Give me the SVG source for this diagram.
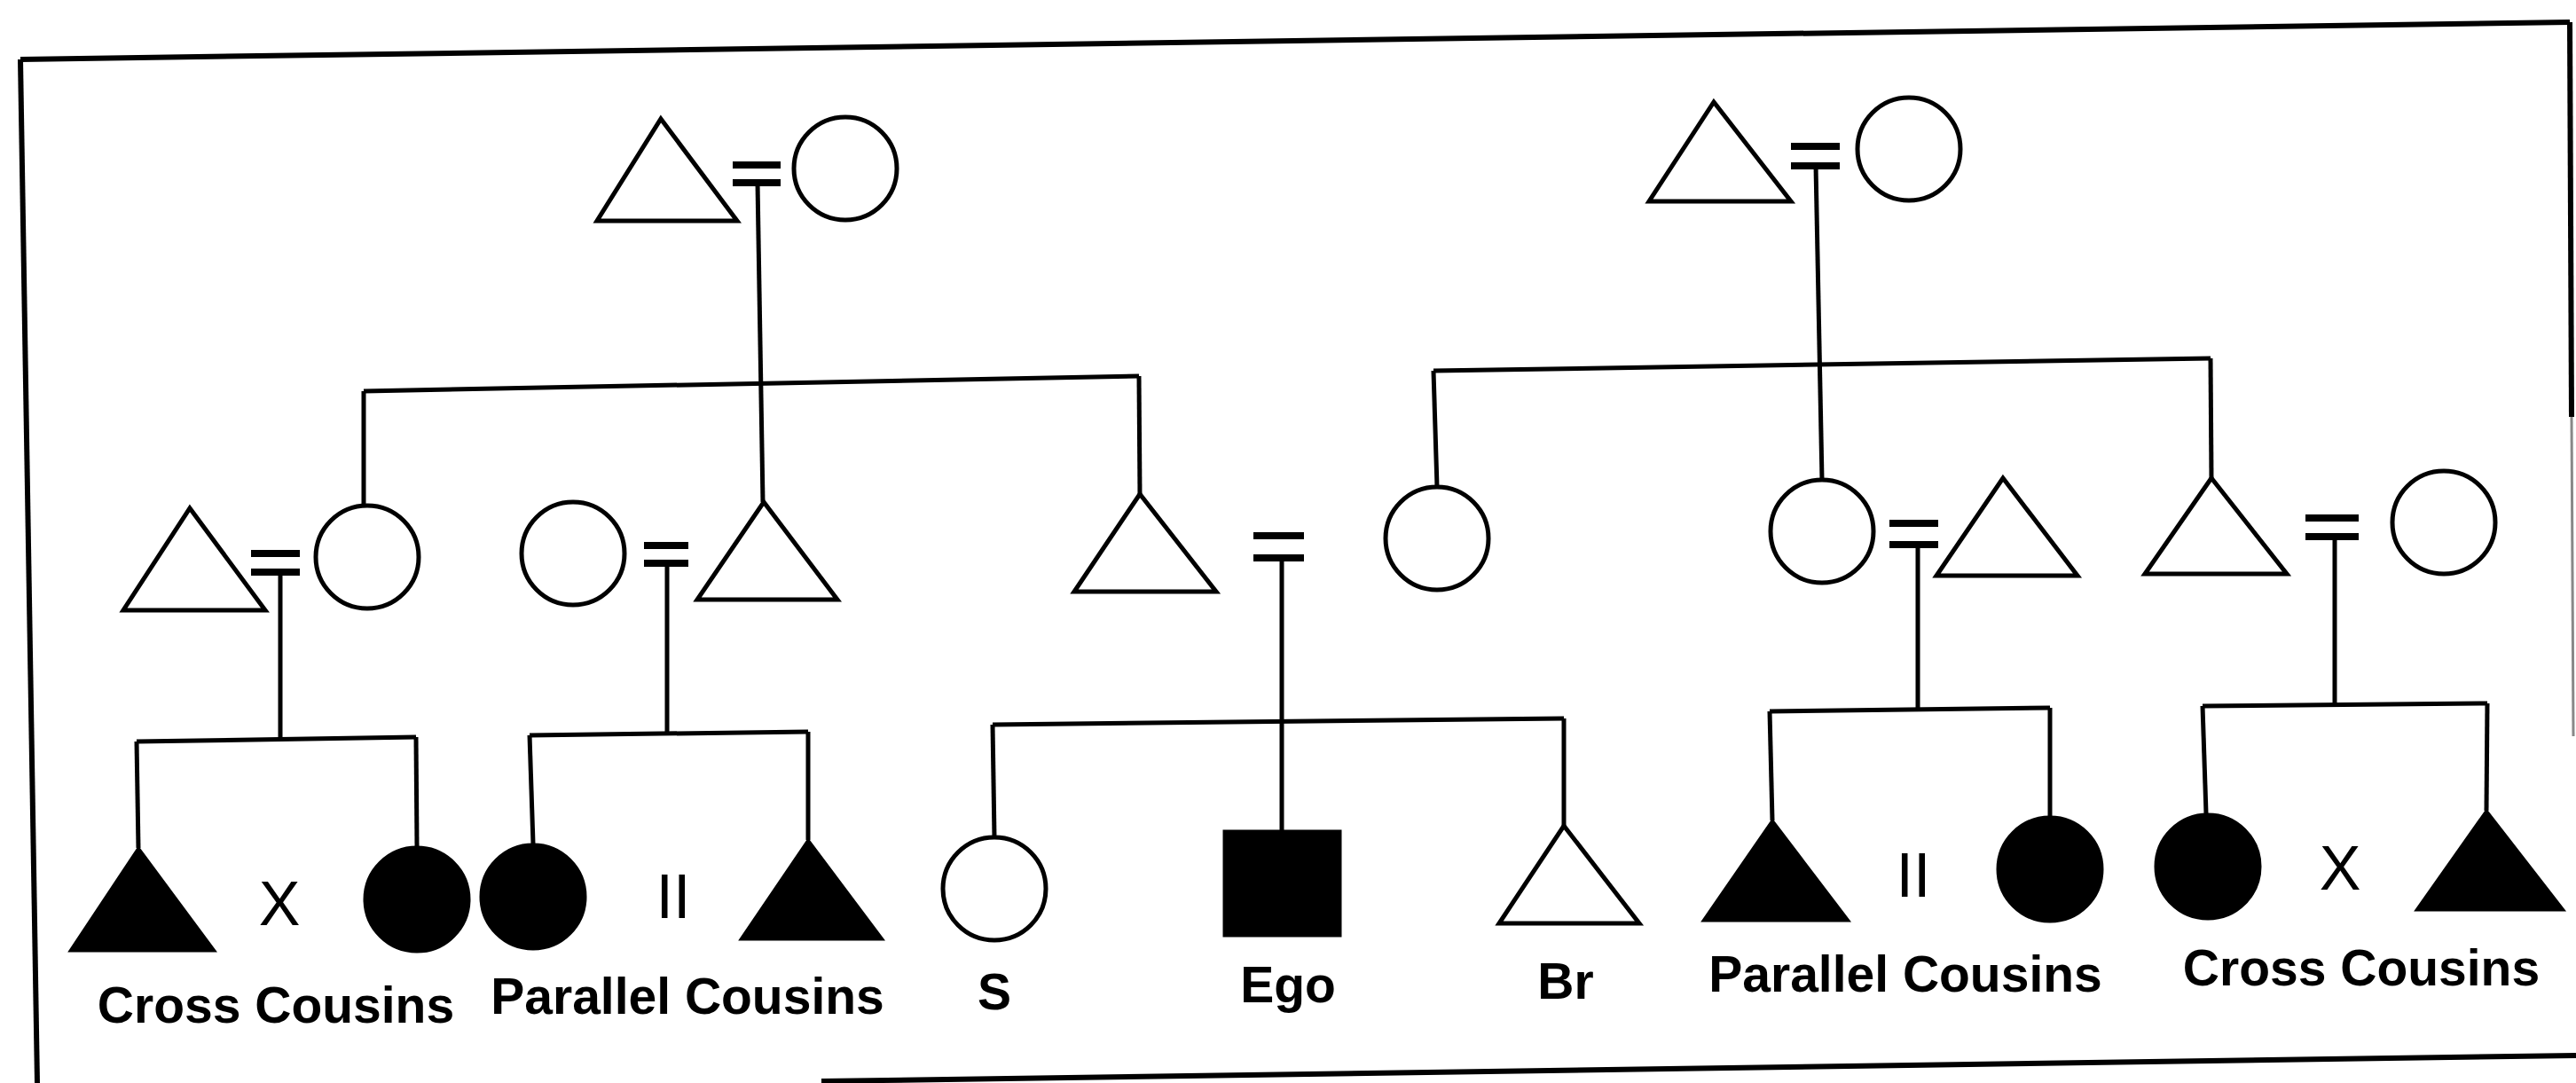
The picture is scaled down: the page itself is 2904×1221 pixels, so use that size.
<svg xmlns="http://www.w3.org/2000/svg" width="2904" height="1221" viewBox="0 0 2904 1221">
<style>
.open{fill:none;stroke:#000;stroke-width:5;stroke-linejoin:miter}
.filled{fill:#000;stroke:#000;stroke-width:3}
.conn{fill:none;stroke:#000;stroke-width:5}
.eq{stroke:#000;stroke-width:8}
.frame{fill:none;stroke:#000;stroke-width:6}
.label{font-family:"Liberation Sans",Arial,Helvetica,sans-serif;font-weight:bold;font-size:57px;text-anchor:middle;fill:#000}
.mark{font-family:"Liberation Sans",Arial,Helvetica,sans-serif;font-size:70px;text-anchor:middle;fill:#000}
</style>
<rect x="0" y="0" width="2904" height="1221" fill="#fff"/>
<g id="frame">
<path class="frame" d="M23,67 L2897,25"/>
<path class="frame" d="M23,67 L42,1221"/>
<path class="frame" d="M2897,25 L2899,470"/>
<path d="M2899,470 L2901,830" fill="none" stroke="#888" stroke-width="3"/>
<path class="frame" d="M926,1219 L2904,1190"/>
</g>
<g id="connectors">
<!-- gen 1 left marriage -->
<line class="eq" x1="826" y1="186" x2="880" y2="186"/>
<line class="eq" x1="826" y1="206" x2="880" y2="206"/>
<path class="conn" d="M854,206 L860,566"/>
<path class="conn" d="M410,441 L1284,424"/>
<path class="conn" d="M410,441 L410,570"/>
<path class="conn" d="M1284,424 L1285,557"/>
<!-- gen 1 right marriage -->
<line class="eq" x1="2019" y1="165" x2="2074" y2="165"/>
<line class="eq" x1="2019" y1="187" x2="2074" y2="187"/>
<path class="conn" d="M2047,187 L2054,541"/>
<path class="conn" d="M1616,418 L2492,404"/>
<path class="conn" d="M1616,418 L1620,549"/>
<path class="conn" d="M2492,404 L2493,539"/>
<!-- couple A -->
<line class="eq" x1="283" y1="624" x2="338" y2="624"/>
<line class="eq" x1="283" y1="645" x2="338" y2="645"/>
<path class="conn" d="M316,645 L316,835"/>
<path class="conn" d="M154,836 L469,831"/>
<path class="conn" d="M154,836 L156,956"/>
<path class="conn" d="M469,831 L470,954"/>
<!-- couple B -->
<line class="eq" x1="726" y1="615" x2="776" y2="615"/>
<line class="eq" x1="726" y1="635" x2="776" y2="635"/>
<path class="conn" d="M752,635 L752,827"/>
<path class="conn" d="M597,829 L911,825"/>
<path class="conn" d="M597,829 L601,951"/>
<path class="conn" d="M911,825 L911,947"/>
<!-- ego's parents -->
<line class="eq" x1="1413" y1="604" x2="1470" y2="604"/>
<line class="eq" x1="1413" y1="629" x2="1470" y2="629"/>
<path class="conn" d="M1445,629 L1445,937"/>
<path class="conn" d="M1119,817 L1763,810"/>
<path class="conn" d="M1119,817 L1121,944"/>
<path class="conn" d="M1763,810 L1763,931"/>
<!-- couple C -->
<line class="eq" x1="2130" y1="590" x2="2185" y2="590"/>
<line class="eq" x1="2130" y1="614" x2="2185" y2="614"/>
<path class="conn" d="M2162,614 L2162,800"/>
<path class="conn" d="M1995,802 L2311,798"/>
<path class="conn" d="M1995,802 L1998,925"/>
<path class="conn" d="M2311,798 L2311,920"/>
<!-- couple D -->
<line class="eq" x1="2599" y1="584" x2="2659" y2="584"/>
<line class="eq" x1="2599" y1="605" x2="2659" y2="605"/>
<path class="conn" d="M2632,605 L2632,794"/>
<path class="conn" d="M2483,796 L2804,793"/>
<path class="conn" d="M2483,796 L2487,917"/>
<path class="conn" d="M2804,793 L2803,914"/>
</g>
<g id="gp-left-m"><polygon class="open" points="745,134 831,249 673,249"/></g>
<g id="gp-left-f"><circle class="open" cx="953" cy="190" r="58"/></g>
<g id="gp-right-m"><polygon class="open" points="1932,115 2019,227 1859,227"/></g>
<g id="gp-right-f"><circle class="open" cx="2152" cy="168" r="58"/></g>
<g id="a-m"><polygon class="open" points="214,573 299,688 139,688"/></g>
<g id="a-f"><circle class="open" cx="414" cy="628" r="58"/></g>
<g id="b-f"><circle class="open" cx="646" cy="624" r="58"/></g>
<g id="b-m"><polygon class="open" points="861,566 944,676 786,676"/></g>
<g id="father"><polygon class="open" points="1285,557 1371,667 1211,667"/></g>
<g id="mother"><circle class="open" cx="1620" cy="607" r="58"/></g>
<g id="c-f"><circle class="open" cx="2054" cy="599" r="58"/></g>
<g id="c-m"><polygon class="open" points="2258,539 2342,649 2183,649"/></g>
<g id="d-m"><polygon class="open" points="2493,539 2578,647 2418,647"/></g>
<g id="d-f"><circle class="open" cx="2755" cy="589" r="58"/></g>
<g id="cc1"><polygon class="filled" points="156,956 242,1072 79,1072"/></g>
<g id="x1"><text class="mark" x="315" y="1043">X</text></g>
<g id="cc2"><circle class="filled" cx="470" cy="1014" r="59"/></g>
<g id="pc1"><circle class="filled" cx="601" cy="1011" r="59"/></g>
<g id="ii1"><text class="mark" x="759" y="1035">II</text></g>
<g id="pc2"><polygon class="filled" points="911,947 995,1059 835,1059"/></g>
<g id="sister"><circle class="open" cx="1121" cy="1002" r="58"/></g>
<g id="ego"><rect class="filled" x="1380" y="937" width="131" height="118"/></g>
<g id="brother"><polygon class="open" points="1763,931 1848,1041 1690,1041"/></g>
<g id="pc3"><polygon class="filled" points="1998,925 2084,1038 1920,1038"/></g>
<g id="ii2"><text class="mark" x="2157" y="1011">II</text></g>
<g id="pc4"><circle class="filled" cx="2311" cy="980" r="59"/></g>
<g id="cc3"><circle class="filled" cx="2489" cy="977" r="59"/></g>
<g id="x2"><text class="mark" x="2638" y="1003">X</text></g>
<g id="cc4"><polygon class="filled" points="2803,914 2890,1026 2724,1026"/></g>
<g id="labels">
<text class="label" x="311" y="1153">Cross Cousins</text>
<text class="label" x="775" y="1143">Parallel Cousins</text>
<text class="label" x="1121" y="1138">S</text>
<text class="label" x="1452" y="1130">Ego</text>
<text class="label" x="1765" y="1126">Br</text>
<text class="label" x="2148" y="1118">Parallel Cousins</text>
<text class="label" x="2662" y="1111">Cross Cousins</text>
</g>
</svg>
